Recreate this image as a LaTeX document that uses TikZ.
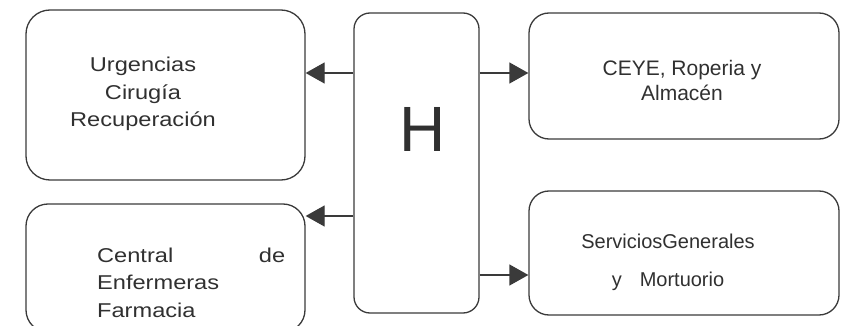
\documentclass[tikz,border=0pt]{standalone}
\usepackage{fontspec}
\setmainfont{Liberation Sans}
\newfontfamily\widefont{Liberation Sans}[FakeStretch=1.18]
\usetikzlibrary{arrows.meta}
\definecolor{ink}{HTML}{3A3A3A}
\definecolor{txt}{HTML}{303030}
\begin{document}
\begin{tikzpicture}[x=1pt,y=-1pt,
  box/.style={draw=ink,line width=1.3pt,inner sep=0pt},
  lbl/.style={text=txt,inner sep=0pt},
  arr/.style={draw=ink,line width=1.3pt,-{Triangle[length=19pt,width=21pt]}}]
\useasboundingbox (0,0) rectangle (841,326);
\clip (0,0) rectangle (841,326);

% area boxes
\node[box,rounded corners=24pt,minimum width=279pt,minimum height=170pt] (urg) at (165.5,95) {};
\node[box,rounded corners=22pt,minimum width=279pt,minimum height=128pt] (cen) at (165.5,268) {};
\node[box,rounded corners=16pt,minimum width=125pt,minimum height=300pt] (hub) at (416.5,163) {};
\node[box,rounded corners=20pt,minimum width=310pt,minimum height=126pt] (ceye) at (684,76) {};
\node[box,rounded corners=20pt,minimum width=310pt,minimum height=124pt] (serv) at (684,253) {};

% labels
\node[lbl,align=center,font=\widefont\fontsize{20}{27.5}\selectfont] (urgt) at (143,94)
  {Urgencias\\Cirugía\\Recuperación};
\node[lbl,anchor=north west,text width=188pt,align=left,font=\widefont\fontsize{20}{27.5}\selectfont] (cent) at (97,247.5)
  {Central\hfill de\\Enfermeras\\Farmacia};
\node[lbl,font=\fontsize{64}{64}\selectfont] (ht) at (423,129) {H};
\node[lbl,align=center,font=\fontsize{21}{25}\selectfont] (ceyet) at (682,80)
  {CEYE, Roperia y\\Almacén};
\node[lbl,align=center,font=\fontsize{20}{38}\selectfont] (servt) at (668,262)
  {ServiciosGenerales\\y\hspace{0.9em}Mortuorio};

% connectors
\coordinate (r1) at (0,73);
\coordinate (r2) at (0,216);
\coordinate (r3) at (0,275);
\draw[arr] (hub.west |- r1) -- (urg.east |- r1);
\draw[arr] (hub.west |- r2) -- (cen.east |- r2);
\draw[arr] (hub.east |- r1) -- (ceye.west |- r1);
\draw[arr] (hub.east |- r3) -- (serv.west |- r3);
\end{tikzpicture}
\end{document}
